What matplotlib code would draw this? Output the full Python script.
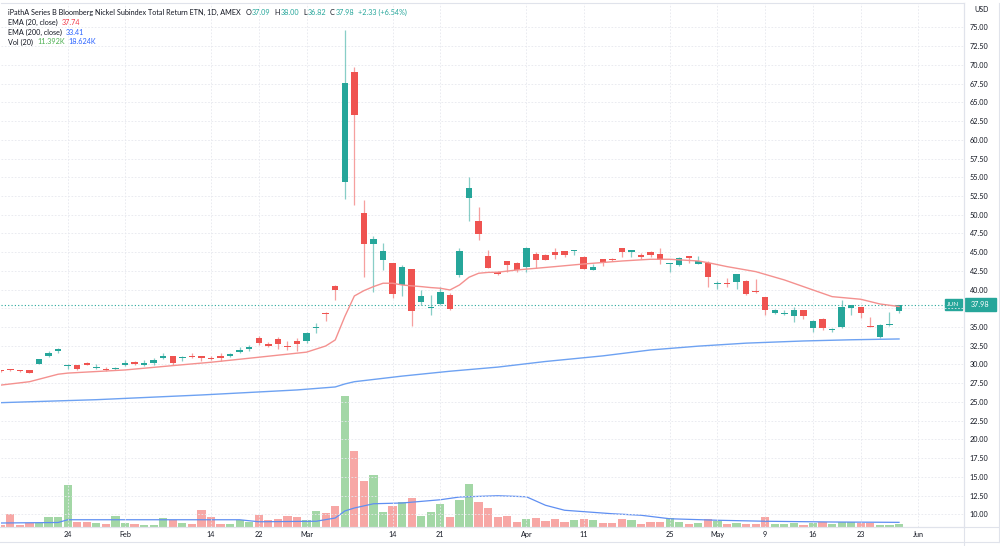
import matplotlib
matplotlib.use('Agg')
import matplotlib.pyplot as plt
from matplotlib.patches import Rectangle
from matplotlib.lines import Line2D
import numpy as np

plt.rcParams['font.family'] = ['Lato', 'DejaVu Sans']

# ------------------------------------------------------------
# Data, trading days Jan 12 - May 27 2022
# ------------------------------------------------------------
jan_days = [12, 13, 14, 18, 19, 20, 21, 24, 25, 26, 27, 28, 31]
feb_days = [1, 2, 3, 4, 7, 8, 9, 10, 11, 14, 15, 16, 17, 18, 22, 23, 24, 25, 28]
mar_days = [1, 2, 3, 4, 7, 8, 9, 10, 11, 14, 15, 16, 17, 18, 21, 22, 23, 24, 25, 28, 29, 30, 31]
apr_days = [1, 4, 5, 6, 7, 8, 11, 12, 13, 14, 18, 19, 20, 21, 22, 25, 26, 27, 28, 29]
may_days = [2, 3, 4, 5, 6, 9, 10, 11, 12, 13, 16, 17, 18, 19, 20, 23, 24, 25, 26, 27]
future_days = ['2022-05-31', '2022-06-01']

opens = [29.15, 29.25, 29.25, 29.2, 30.1, 31.15, 31.77, 29.85, 29.9, 30.17, 29.5, 29.45, 29.37,
         29.9, 30.3, 29.98, 30.17, 30.83, 31.1, 30.88, 31.1, 31.07, 30.9, 31.2, 31.2, 31.7, 32.04,
         33.55, 32.8, 33.35, 32.5, 33.2,
         33.1, 34.9, 36.9, 40.5, 54.41, 69.1, 50.2, 46.05, 44.0, 43.52, 40.55, 42.72, 38.4, 37.55,
         38.1, 39.33, 42.0, 52.2, 49.2, 44.5, 42.4, 43.8, 43.6,
         42.98, 44.76, 44.63, 45.03, 45.12, 45.15, 44.3, 42.62, 44.1, 44.1, 45.5, 44.98, 44.63,
         45.07, 44.72, 43.4, 43.25, 44.5, 43.47, 43.6,
         40.8, 40.85, 41.0, 41.2, 39.8, 39.0, 36.84, 36.7, 36.45, 37.28, 34.88, 36.04, 34.55, 34.97,
         37.55, 37.64, 35.15, 33.68, 35.3, 37.09]
highs = [29.2, 29.35, 29.3, 29.25, 30.75, 31.77, 32.2, 30.0, 29.95, 30.3, 30.0, 29.7, 29.65,
         30.6, 30.45, 30.6, 30.8, 31.5, 31.2, 31.15, 31.5, 31.1, 31.1, 31.5, 31.5, 32.3, 32.6,
         33.8, 33.0, 33.7, 33.1, 33.5,
         34.4, 35.6, 36.95, 40.55, 74.67, 69.77, 51.9, 47.2, 46.2, 43.55, 43.3, 42.75, 39.95, 39.25,
         40.3, 39.6, 45.5, 55.1, 51.0, 45.3, 42.55, 43.85, 43.75,
         45.7, 45.0, 44.7, 45.5, 45.15, 45.35, 44.45, 43.4, 44.1, 44.25, 45.5, 45.35, 44.85,
         45.2, 45.5, 43.55, 44.3, 44.55, 44.5, 43.87,
         41.1, 41.6, 42.1, 41.25, 41.4, 39.05, 37.45, 37.3, 37.7, 37.3, 35.9, 36.2, 34.9, 38.62,
         37.95, 37.7, 36.3, 35.35, 37.0, 38.0]
lows = [29.05, 29.1, 29.05, 28.8, 30.05, 31.05, 31.6, 29.37, 29.27, 29.9, 29.4, 29.1, 29.25,
        29.77, 29.95, 29.8, 29.98, 30.7, 29.95, 30.4, 30.85, 30.45, 30.55, 30.5, 31.0, 31.5, 31.8,
        32.6, 32.3, 32.1, 31.9, 31.77,
        32.9, 34.2, 35.75, 38.6, 52.1, 51.3, 41.65, 39.7, 42.6, 38.9, 39.2, 35.15, 37.95, 36.65,
        37.9, 37.3, 41.7, 49.2, 46.6, 42.85, 41.95, 42.4, 42.3,
        42.3, 42.95, 43.95, 44.1, 44.4, 44.6, 42.8, 42.6, 43.2, 43.8, 44.3, 44.4, 44.1,
        44.4, 43.4, 42.4, 43.2, 43.6, 43.4, 40.4,
        40.1, 40.3, 40.1, 39.3, 39.5, 36.6, 36.7, 36.6, 35.65, 36.1, 34.4, 34.6, 34.3, 34.84,
        36.6, 36.2, 35.0, 33.6, 35.15, 36.82]
closes = [29.1, 29.2, 29.1, 28.85, 30.7, 31.5, 32.04, 29.95, 29.45, 29.98, 29.72, 29.23, 29.55,
          30.2, 30.1, 30.25, 30.65, 31.18, 30.25, 31.0, 30.97, 30.83, 30.78, 30.92, 31.27, 31.95, 32.3,
          32.85, 32.5, 32.7, 32.3, 32.77,
          34.17, 35.0, 36.8, 39.9, 67.63, 63.3, 46.05, 46.8, 45.2, 39.45, 43.05, 37.2, 39.15, 37.65,
          39.65, 37.4, 45.2, 53.6, 47.4, 42.9, 42.05, 43.33, 42.65,
          45.52, 43.96, 44.0, 44.63, 44.67, 45.25, 42.8, 43.06, 43.5, 43.96, 45.07, 45.33, 44.32,
          44.63, 43.96, 43.5, 44.2, 44.28, 43.83, 41.73,
          40.9, 40.75, 42.1, 39.38, 39.65, 37.28, 37.28, 36.8, 37.25, 36.47, 35.86, 34.92, 34.65, 37.72,
          37.9, 36.84, 35.05, 35.3, 35.4, 37.98]
volume_k = [8, 53, 8, 16, 16, 39, 39, 167, 20, 20, 15, 12, 44,
            15, 11, 8, 7, 36, 28, 17, 11, 69, 41, 11, 11, 29, 20,
            48, 27, 32, 45, 39,
            28, 64, 56, 85, 524, 303, 185, 207, 59, 83, 99, 117, 45, 60,
            91, 41, 107, 172, 100, 75, 41, 45, 21,
            33, 37, 23, 33, 19, 28, 33, 28, 16, 16, 33, 27, 13,
            21, 21, 36, 19, 12, 15, 31,
            25, 12, 15, 12, 12, 41, 11, 11, 17, 7, 15, 19, 11, 19,
            19, 15, 15, 7, 7, 11.4]

# indicator lines, read at selected bars (bar index, value)
ema20_bar = [0, 3, 6, 7, 13, 18, 22, 27, 32, 34, 35, 36, 37, 38, 39, 40, 41, 42, 43, 44, 45, 46,
             47, 48, 49, 50, 51, 52, 54, 58, 61, 65, 68, 70, 73, 74, 76, 79, 82, 85, 87, 90, 92, 94]
ema20_val = [27.25, 27.7, 28.7, 28.85, 29.27, 29.85, 30.3, 30.97, 31.65, 32.47, 33.28, 36.4, 39.15,
             39.86, 40.4, 40.85, 40.85, 40.62, 40.5, 40.4, 40.27, 40.18, 39.95, 40.62, 41.65, 42.18,
             42.3, 42.32, 42.62, 43.07, 43.42, 43.82, 44.05, 44.05, 43.82, 43.6, 43.07, 42.4, 41.29,
             39.95, 39.06, 38.71, 38.08, 37.74]
ema200_bar = [0, 10, 21, 31, 35, 36, 37, 42, 47, 52, 57, 63, 68, 73, 78, 84, 89, 94]
ema200_val = [24.9, 25.3, 25.93, 26.6, 27.0, 27.4, 27.7, 28.45, 29.1, 29.65, 30.4, 31.15, 31.94,
              32.45, 32.85, 33.14, 33.3, 33.41]
volma_bar = [0, 6, 7, 25, 27, 33, 35, 36, 37, 39, 42, 46, 48, 52, 55, 57, 59, 64, 67, 70, 75, 80, 87, 94]
volma_val = [16, 18, 29, 29, 21, 23, 36, 64, 76, 93, 96, 109, 120, 125, 121, 87, 67, 53, 47, 33, 27,
             23, 20, 18.6]

tick_dates = ['2022-01-24', '2022-02-01', '2022-02-14', '2022-02-22', '2022-03-01', '2022-03-14',
              '2022-03-21', '2022-04-01', '2022-04-11', '2022-04-25', '2022-05-02', '2022-05-09',
              '2022-05-16', '2022-05-23', '2022-06-01']
tick_labels = ['24', 'Feb', '14', '22', 'Mar', '14', '21', 'Apr', '11', '25', 'May', '9', '16', '23', 'Jun']
price_ticks = np.arange(10, 75.01, 2.5)

# ------------------------------------------------------------
# Prepare
# ------------------------------------------------------------
dates = []
for m, days in zip([1, 2, 3, 4, 5], [jan_days, feb_days, mar_days, apr_days, may_days]):
    dates += ['2022-%02d-%02d' % (m, d) for d in days]
axis_dates = dates + future_days
tick_pos = [axis_dates.index(d) for d in tick_dates]

o = np.array(opens); h = np.array(highs); l = np.array(lows); c = np.array(closes)
idx = np.arange(len(dates))
up = c >= o

GREEN = '#26a69a'
RED = '#ef5350'
TXT = '#131722'
GRID = '#e6e8ee'

W, H = 1000, 546
fig = plt.figure(figsize=(W / 100, H / 100), dpi=100)
ax = fig.add_axes([1 / W, 19 / H, 963 / W, 524 / H])
ax2 = ax.twinx()
ax.set_zorder(2)
ax.patch.set_visible(False)

# volume
ax2.bar(idx, volume_k, width=0.86, color=np.where(up, '#a3d7a6', '#f7a7a5'), linewidth=0)
ax2.plot(volma_bar, volma_val, color='#5f8ff2', lw=0.9)
ax2.set_ylim(0, 2096)
ax2.set_yticks([])
for s in ax2.spines.values():
    s.set_visible(False)

# candles
ax.vlines(idx, l, h, colors=np.where(up, GREEN, RED), linewidth=0.9, alpha=0.55, zorder=3)
body_lo = np.minimum(o, c)
body_h = np.maximum(np.abs(c - o), 0.14)
ax.bar(idx, body_h, bottom=body_lo, width=0.68, color=np.where(up, GREEN, RED), linewidth=0, zorder=4)

# EMAs
ax.plot(ema20_bar, ema20_val, color='#f4918f', lw=1.0, zorder=5)
ax.plot(ema200_bar, ema200_val, color='#6ea2f2', lw=1.0, zorder=5)

# last price line
ax.axhline(closes[-1], color=GREEN, lw=0.8, ls=(0, (1, 2)), zorder=1)

ax.set_xlim(0.021, 100.8)
ax.set_ylim(8.30, 78.27)
ax.set_yticks(price_ticks)
# the 37.50 label sits under the last-price box
ax.set_yticklabels(['' if abs(v - closes[-1]) < 1 else '%.2f' % v for v in price_ticks])
ax.yaxis.tick_right()
ax.set_xticks(tick_pos)
ax.set_xticklabels(tick_labels)
ax.tick_params(axis='both', length=0, labelsize=5.2, colors=TXT)
ax.tick_params(axis='y', pad=4)
ax.tick_params(axis='x', pad=3)
ax.grid(True, color=GRID, lw=0.6, ls=(0, (2, 2)), zorder=0)
for s in ax.spines.values():
    s.set_color('#e0e3eb')
    s.set_linewidth(0.8)
ax.spines['left'].set_visible(False)

# frame lines outside the plot
fig.add_artist(Line2D([964 / W, 964 / W], [0, 1 - 3 / H], color='#e0e3eb', lw=0.8))
fig.add_artist(Line2D([0, 1], [1 - 527 / H, 1 - 527 / H], color='#e0e3eb', lw=0.8))
fig.add_artist(Line2D([0, 1], [1 - 542 / H, 1 - 542 / H], color='#e0e3eb', lw=0.8))
fig.add_artist(Line2D([999 / W, 999 / W], [1 - 542 / H, 1 - 3 / H], color='#e0e3eb', lw=0.8))

fig.text(974 / W, 1 - 10 / H, 'USD', fontsize=5, color=TXT, va='center', ha='left')

# price boxes
fig.add_artist(Rectangle((965 / W, 1 - 311 / H), 31 / W, 13 / H, color=GREEN, transform=fig.transFigure))
fig.text(980.5 / W, 1 - 304.5 / H, '%.2f' % closes[-1], color='white', fontsize=5.2, ha='center', va='center')
fig.add_artist(Rectangle((945 / W, 1 - 310 / H), 17 / W, 11 / H, color=GREEN, transform=fig.transFigure))
fig.text(953.5 / W, 1 - 304.5 / H, 'JUN', color='white', fontsize=4.6, ha='center', va='center')

# legend rows
renderer = fig.canvas.get_renderer()


def row(x, y, parts, fs=5.2):
    for s, col, gap in parts:
        t = fig.text(x / W, 1 - y / H, s, color=col, fontsize=fs, va='center', ha='left')
        x = t.get_window_extent(renderer=renderer).x1 + gap


GRAY = '#131722'
row(8, 12.5, [('iPathA Series B Bloomberg Nickel Subindex Total Return ETN, 1D, AMEX', GRAY, 5),
              ('O', GRAY, 0.5), ('%.2f' % opens[-1], GREEN, 4),
              ('H', GRAY, 0.5), ('%.2f' % highs[-1], GREEN, 4),
              ('L', GRAY, 0.5), ('%.2f' % lows[-1], GREEN, 4),
              ('C', GRAY, 0.5), ('%.2f' % closes[-1], GREEN, 4),
              ('+2.33 (+6.54%)', GREEN, 0)])
row(8, 22.5, [('EMA (20, close)', GRAY, 4), ('%.2f' % ema20_val[-1], '#f23645', 0)])
row(8, 32.5, [('EMA (200, close)', GRAY, 4), ('%.2f' % ema200_val[-1], '#2962ff', 0)])
row(8, 42, [('Vol (20)', GRAY, 4), ('11.392K', '#4caf50', 4), ('18.624K', '#2962ff', 0)])

fig.savefig('out.png', dpi=100)
